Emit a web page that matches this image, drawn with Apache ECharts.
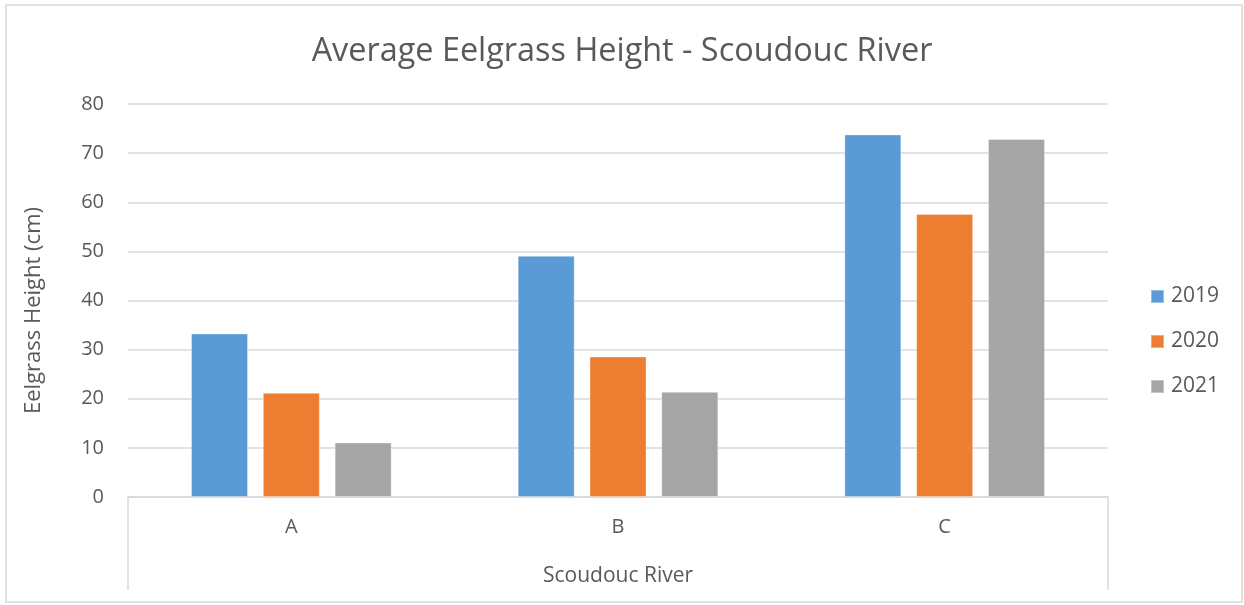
<!DOCTYPE html>
<html>
<head>
<meta charset="utf-8">
<script src="https://cdn.jsdelivr.net/npm/echarts@6/dist/echarts.min.js"></script>
<style>
  html, body { margin: 0; padding: 0; background: #ffffff; }
  #chart { width: 1244px; height: 605px; }
</style>
</head>
<body>
<div id="chart"></div>
<script>
// Sampling sites along the river
const sites = ['A', 'B', 'C'];
// Average eelgrass height (cm) per year
const h2019 = [33.3, 49.1, 73.8];
const h2020 = [21.2, 28.6, 57.6];
const h2021 = [11.1, 21.4, 72.9];
const years = ['2019', '2020', '2021'];
const yTicks = { min: 0, max: 80, interval: 10 };

const FONT = '"Open Sans", "Noto Sans", sans-serif';
const TEXT = '#595959';
const LINE = '#d9d9d9';
const colors = ['#5B9BD5', '#ED7D31', '#A5A5A5'];

const grid = { left: 128, top: 104, right: 136, bottom: 108 };

const chart = echarts.init(document.getElementById('chart'), null, { renderer: 'canvas' });

function barSeries(name, data, color) {
  return {
    name: name,
    type: 'bar',
    data: data,
    barWidth: 57,
    barGap: '26%',
    itemStyle: { color: color, borderColor: 'rgba(255,255,255,0.35)', borderWidth: 1 }
  };
}

chart.setOption({
  backgroundColor: '#ffffff',
  textStyle: { fontFamily: FONT },
  title: {
    text: 'Average Eelgrass Height - Scoudouc River',
    left: 'center',
    top: 30,
    textStyle: { fontFamily: FONT, fontSize: 32.4, fontWeight: 'normal', color: TEXT, lineHeight: 34 }
  },
  legend: {
    orient: 'vertical',
    left: 1150,
    top: 286,
    padding: 0,
    itemWidth: 13,
    itemHeight: 13,
    itemGap: 24,
    icon: 'rect',
    data: years,
    textStyle: { fontFamily: FONT, fontSize: 21, color: TEXT, lineHeight: 21, padding: [0, 0, 0, 2] }
  },
  grid: grid,
  xAxis: {
    type: 'category',
    data: sites,
    name: 'Scoudouc River',
    nameLocation: 'middle',
    nameGap: 69,
    nameTextStyle: { fontFamily: FONT, fontSize: 21, color: TEXT },
    axisLine: { show: true, lineStyle: { color: LINE, width: 1.5 } },
    axisTick: { show: false },
    axisLabel: { fontFamily: FONT, fontSize: 20, color: TEXT, margin: 20 }
  },
  yAxis: {
    type: 'value',
    min: yTicks.min,
    max: yTicks.max,
    interval: yTicks.interval,
    name: 'Eelgrass Height (cm)',
    nameLocation: 'middle',
    nameGap: 83,
    nameTextStyle: { fontFamily: FONT, fontSize: 22, color: TEXT, padding: [0, 20, 0, 0] },
    axisLine: { show: false },
    axisTick: { show: false },
    axisLabel: { fontFamily: FONT, fontSize: 20, color: TEXT, margin: 24 },
    splitLine: { lineStyle: { color: LINE, width: 1.5 } }
  },
  graphic: [
    // outer chart border
    { type: 'rect', shape: { x: 6, y: 5, width: 1236, height: 597 },
      style: { fill: 'none', stroke: LINE, lineWidth: 1.5 }, silent: true },
    // category axis group box (left and right edges)
    { type: 'line', shape: { x1: 128, y1: 497, x2: 128, y2: 590 },
      style: { stroke: LINE, lineWidth: 1.5 }, silent: true },
    { type: 'line', shape: { x1: 1108, y1: 497, x2: 1108, y2: 590 },
      style: { stroke: LINE, lineWidth: 1.5 }, silent: true }
  ],
  series: [
    barSeries(years[0], h2019, colors[0]),
    barSeries(years[1], h2020, colors[1]),
    barSeries(years[2], h2021, colors[2])
  ]
});
</script>
</body>
</html>
